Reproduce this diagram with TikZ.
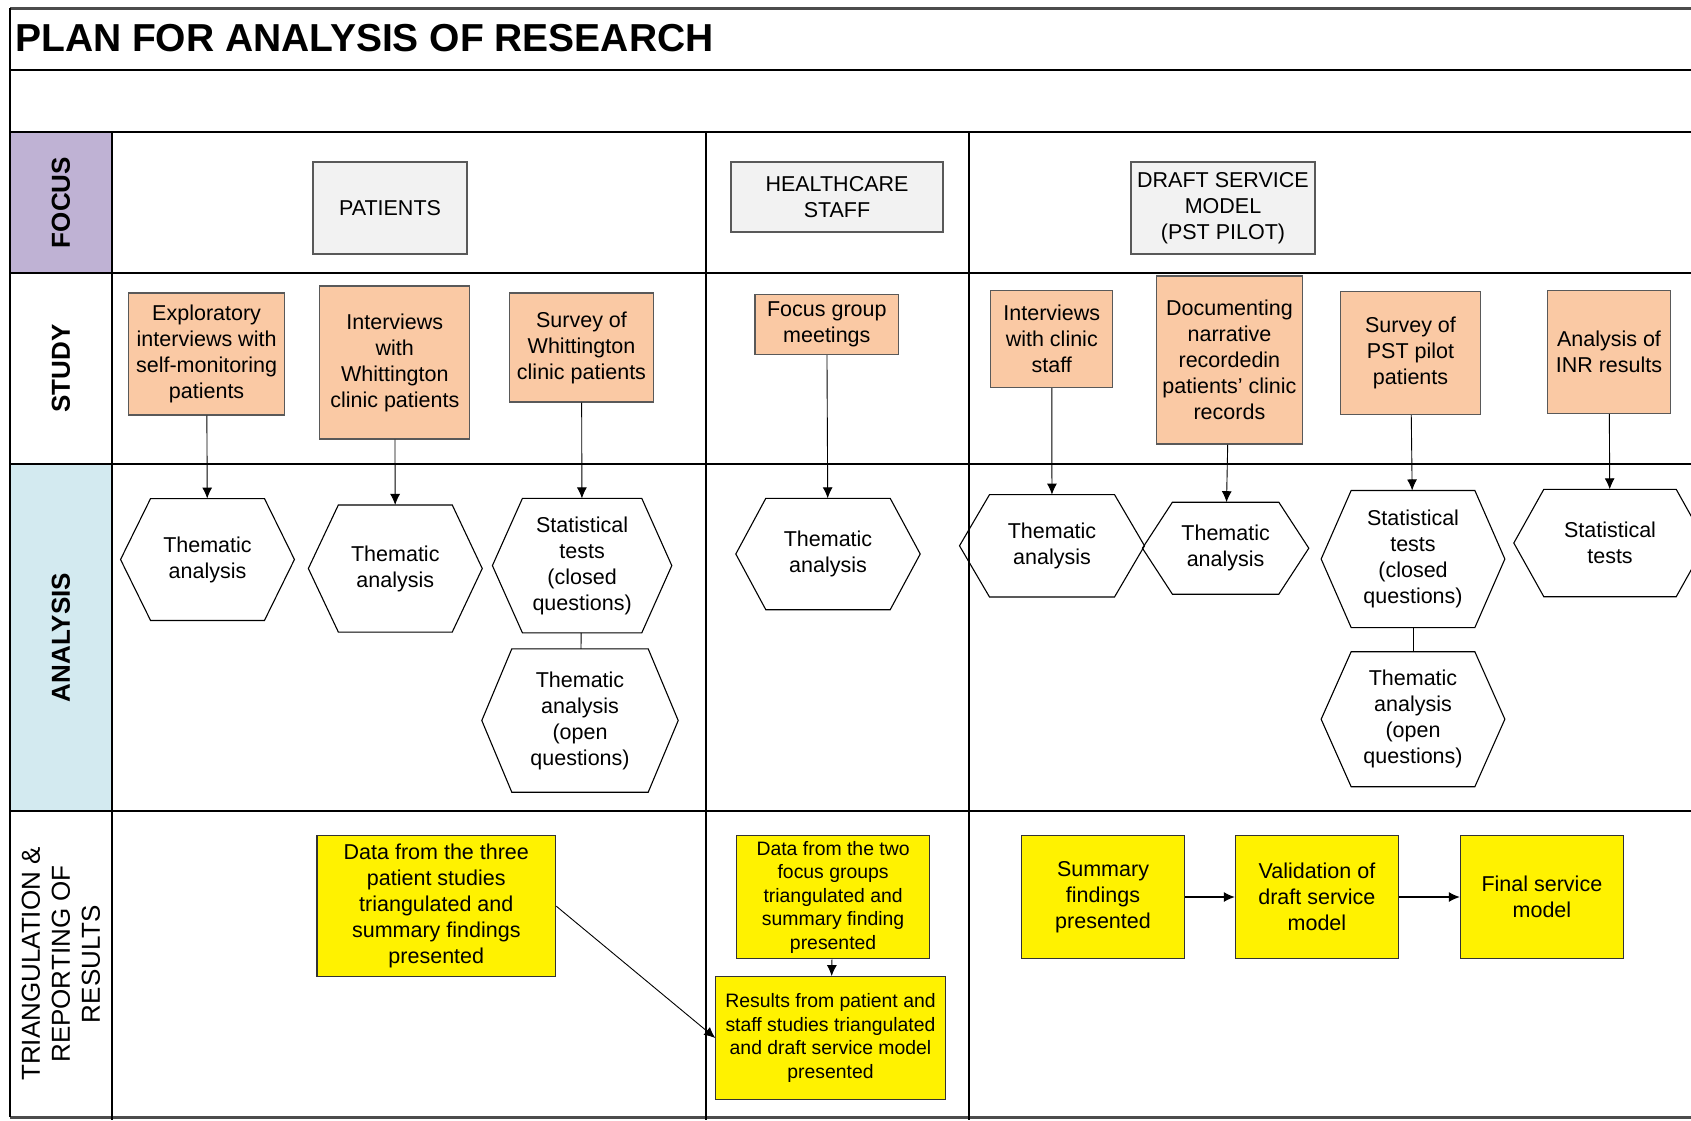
\documentclass[tikz,border=0pt]{standalone}
\usepackage{fontspec}
\setmainfont{Liberation Sans}
\usetikzlibrary{arrows.meta}
\definecolor{focuspurple}{HTML}{BFB2D4}
\definecolor{analysisblue}{HTML}{D3EAF0}
\definecolor{studypeach}{HTML}{FAC9A4}
\definecolor{focusgrey}{HTML}{F2F2F2}

\begin{document}
\begin{tikzpicture}[x=1pt,y=-1pt,>={Latex[length=11pt,width=10pt]},
    every node/.style={align=center,inner sep=0pt,font=\fontsize{21.5}{26}\selectfont},
    rule/.style={line width=1.5pt},
    heavyrule/.style={line width=3pt,black!70},
    focusbox/.style={draw=black!65,fill=focusgrey,line width=1.2pt},
    studybox/.style={draw=black!65,fill=studypeach,line width=1.2pt},
    resultbox/.style={draw=black!80,fill=yellow,line width=1.2pt},
    smalltext/.style={font=\fontsize{19.4}{23.5}\selectfont},
    rowlabel/.style={rotate=90,font=\fontsize{26}{30}\selectfont\bfseries},
    link/.style={->,line width=0.9pt}]
\useasboundingbox (0,0) rectangle (1691,1120);
            \fill[focuspurple] (10,132) rectangle (112,273);
            \fill[analysisblue] (10,464) rectangle (112,811);
            \draw[heavyrule] (10,8) -- (1691,8);
            \draw[heavyrule] (10,1117) -- (1691,1117);
            \draw[rule] (10,8) -- (10,1117);
            \foreach \y in {70,132,273,464,811}
                \draw[rule] (10,\y) -- (1691,\y);
            \foreach \x in {112,706,969}
                \draw[rule] (\x,132) -- (\x,1120);
            \node[anchor=base west,font=\fontsize{39}{42}\selectfont\bfseries] (title) at (15,51) {PLAN FOR ANALYSIS OF RESEARCH};
            \node[rowlabel] (lfocus) at (61,202.5) {FOCUS};
            \node[rowlabel] (lstudy) at (61,368.5) {STUDY};
            \node[rowlabel] (lanalysis) at (61,637.5) {ANALYSIS};
            \node[rotate=90,font=\fontsize{26}{30}\selectfont] (ltriang) at (61,964) {TRIANGULATION \&\\REPORTING OF\\RESULTS};
            \node[focusbox,minimum width=154pt,minimum height=92pt] (fpat) at (390,208) {PATIENTS};
            \node[focusbox,minimum width=212pt,minimum height=70pt] (fstaff) at (837,197) {HEALTHCARE\\STAFF};
            \node[focusbox,minimum width=184pt,minimum height=92pt] (fdraft) at (1223,208) {DRAFT SERVICE\\MODEL\\(PST PILOT)};
            \node[studybox,minimum width=156pt,minimum height=122pt] (sexp) at (206.6,354) {Exploratory\\interviews with\\self-monitoring\\patients};
            \node[studybox,minimum width=150pt,minimum height=153pt] (sint) at (394.8,362.5) {Interviews\\with\\Whittington\\clinic patients};
            \node[studybox,minimum width=144pt,minimum height=109pt] (ssur) at (581.5,347.5) {Survey of\\Whittington\\clinic patients};
            \node[studybox,minimum width=143.5pt,minimum height=60pt] (sfoc) at (826.8,324.5) {Focus group\\meetings};
            \node[studybox,minimum width=122pt,minimum height=97pt] (sstaff) at (1051.8,339) {Interviews\\with clinic\\staff};
            \node[studybox,minimum width=146pt,minimum height=168pt] (sdoc) at (1229.4,360) {Documenting\\narrative\\recordedin\\patients’ clinic\\records};
            \node[studybox,minimum width=140pt,minimum height=123pt] (spst) at (1410.5,353) {Survey of\\PST pilot\\patients};
            \node[studybox,minimum width=122.6pt,minimum height=123pt] (sinr) at (1609,352) {Analysis of\\INR results};
            \node[minimum width=173.5pt,minimum height=121.5pt] (a1) at (207.5,559.5) {Thematic\\analysis};
            \node[minimum width=173.5pt,minimum height=126.7pt] (a2) at (395.3,568.5) {Thematic\\analysis};
            \node[minimum width=179pt,minimum height=134pt] (a3) at (582.1,565.6) {Statistical\\tests\\(closed\\questions)};
            \node[minimum width=196pt,minimum height=143pt] (a4) at (580,720.5) {Thematic\\analysis\\(open\\questions)};
            \node[minimum width=184pt,minimum height=111pt] (a5) at (828,554) {Thematic\\analysis};
            \node[minimum width=184.6pt,minimum height=102pt] (a6) at (1052,545.8) {Thematic\\analysis};
            \node[minimum width=166pt,minimum height=91.6pt] (a7) at (1225.6,548.2) {Thematic\\analysis};
            \node[minimum width=183.3pt,minimum height=136.7pt] (a8) at (1413,559) {Statistical\\tests\\(closed\\questions)};
            \node[minimum width=183.3pt,minimum height=134.6pt] (a9) at (1413,719.2) {Thematic\\analysis\\(open\\questions)};
            \node[minimum width=192pt,minimum height=107pt] (a10) at (1610,543) {Statistical\\tests};
            \foreach \h in {a1,a2,a3,a4,a5,a6,a7,a8,a9,a10}
                \draw[line width=1.1pt] ([xshift=30pt]\h.north west) -- ([xshift=-30pt]\h.north east) -- (\h.east)
                    -- ([xshift=-30pt]\h.south east) -- ([xshift=30pt]\h.south west) -- (\h.west) -- cycle;
            \node[resultbox,minimum width=238.8pt,minimum height=141pt] (tpat) at (436.3,906.2) {Data from the three\\patient studies\\triangulated and\\summary findings\\presented};
            \node[resultbox,smalltext,minimum width=193.2pt,minimum height=123pt] (tstaff) at (833.1,897.2) {Data from the two\\focus groups\\triangulated and\\summary finding\\presented};
            \node[resultbox,smalltext,minimum width=229.3pt,minimum height=122.6pt] (tres) at (830.5,1038) {Results from patient and\\staff studies triangulated\\and draft service model\\presented};
            \node[resultbox,minimum width=163.5pt,minimum height=122.6pt] (tsum) at (1103,897) {Summary\\findings\\presented};
            \node[resultbox,minimum width=163pt,minimum height=122.6pt] (tval) at (1316.9,897) {Validation of\\draft service\\model};
            \node[resultbox,minimum width=163pt,minimum height=122.6pt] (tfin) at (1541.9,897) {Final service\\model};
            \draw[link] (sexp) -- (a1);
            \draw[link] (sint) -- (a2);
            \draw[link] (ssur) -- (a3);
            \draw[link] (sfoc) -- (a5);
            \draw[link] (sstaff) -- (a6);
            \draw[link] (sdoc) -- (a7);
            \draw[link] (spst) -- (a8);
            \draw[link] (sinr) -- (a10);
            \draw[line width=0.9pt] (a3) -- (a4);
            \draw[line width=0.9pt] (a8) -- (a9);
            \draw[link] (tpat.east) -- (tres.west);
            \draw[link] (tstaff) -- (tres);
            \draw[link,line width=1.2pt] (tsum) -- (tval);
            \draw[link,line width=1.2pt] (tval) -- (tfin);
        \end{tikzpicture}
\end{document}
